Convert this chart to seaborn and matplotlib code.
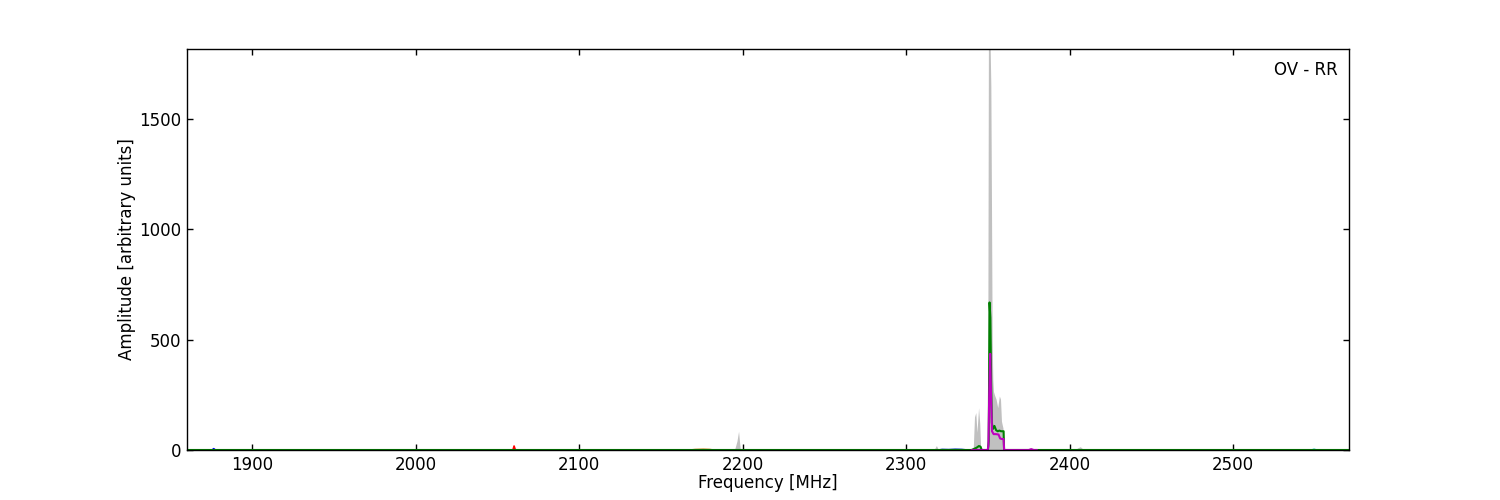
import matplotlib
matplotlib.use("Agg")
import matplotlib.pyplot as plt
import seaborn as sns

# total (grey) spectrum
gray_freq = [1860, 2195, 2196.5, 2197.5, 2198.5, 2200, 2317, 2318.5, 2319.5, 2321,
             2341, 2341.8, 2342.6, 2343.3, 2344.3, 2345.0, 2345.6, 2349.6,
             2349.9, 2350.3, 2350.7, 2351.4, 2351.8, 2352.2, 2352.6, 2353.0, 2353.4,
             2354, 2355, 2356, 2357, 2357.7, 2358.3, 2359.2, 2359.9, 2360.5,
             2403, 2405, 2406.5, 2408, 2410, 2571]
gray_amp = [0, 0, 40, 85, 5, 0, 0, 20, 5, 0,
            0, 150, 170, 80, 192, 120, 0, 0,
            300, 1818, 1818, 1818, 1650, 1100, 500, 320, 265,
            250, 230, 192, 245, 230, 130, 100, 0, 0,
            0, 10, 15, 5, 0, 0]

# green component
green_freq = [1860, 2340, 2343, 2344.5, 2345.5, 2346.2, 2350.0, 2350.5, 2351.0, 2351.5,
              2352.0, 2352.4, 2353.0, 2354.0, 2355.0, 2356.0, 2357.0, 2358.0, 2359.6, 2359.9,
              2362, 2571]
green_amp = [0, 0, 10, 18, 15, 0, 0, 40, 669, 600,
             300, 124, 95, 109, 90, 85, 88, 85, 85, 0,
             0, 0]

# magenta component
magenta_freq = [2340, 2349.9, 2350.3, 2350.8, 2351.4, 2351.9, 2352.5, 2353.5, 2355,
                2356.5, 2357.5, 2358.5, 2359.6, 2359.9, 2375, 2376.5, 2378, 2380]
magenta_amp = [0, 0, 20, 250, 436, 250, 85, 72, 72,
               70, 52, 50, 50, 0, 0, 4, 0, 0]

# small features near the baseline
blue_freq = [1870, 1875.5, 1876.5, 1877.5, 1885]
blue_amp = [0, 0, 6, 0, 0]
red_freq = [2055, 2059.5, 2060.2, 2061, 2065]
red_amp = [0, 0, 18, 0, 0]
orange_freq = [2168, 2171, 2176, 2180, 2182]
orange_amp = [0, 2, 3, 2, 0]
blue2_freq = [2320, 2322, 2326, 2330, 2334, 2337]
blue2_amp = [0, 3, 2, 4, 3, 0]
cyan_freq = [2545, 2548, 2549.5, 2551, 2554]
cyan_amp = [0, 0, 3, 0, 0]

xticks = [1900, 2000, 2100, 2200, 2300, 2400, 2500]
yticks = [0, 500, 1000, 1500]

sns.set_style("white")
plt.rcParams["font.family"] = ["DejaVu Sans"]
plt.rcParams["font.size"] = 12
plt.rcParams["text.color"] = "black"
plt.rcParams["axes.labelcolor"] = "black"

fig, ax = plt.subplots(figsize=(15, 5), dpi=100)
fig.subplots_adjust(left=0.1245, right=0.8995, bottom=0.1, top=0.902)

ax.fill_between(gray_freq, 0, gray_amp, color="#c0c0c0", linewidth=0)
sns.lineplot(x=blue_freq, y=blue_amp, color="blue", linewidth=1.2, ax=ax)
sns.lineplot(x=red_freq, y=red_amp, color="red", linewidth=1.2, ax=ax)
sns.lineplot(x=orange_freq, y=orange_amp, color="#c87800", linewidth=1.2, ax=ax)
sns.lineplot(x=blue2_freq, y=blue2_amp, color="#4060d0", linewidth=1.2, ax=ax)
sns.lineplot(x=cyan_freq, y=cyan_amp, color="c", linewidth=1.2, ax=ax)
sns.lineplot(x=green_freq, y=green_amp, color="g", linewidth=1.5, ax=ax)
sns.lineplot(x=magenta_freq, y=magenta_amp, color="m", linewidth=1.5, ax=ax)

ax.set_xlim(1860, 2571)
ax.set_ylim(0, 1818)
ax.set_xticks(xticks)
ax.set_yticks(yticks)
ax.tick_params(direction="in", length=4, width=1, top=True, right=True,
               bottom=True, left=True, labelsize=12, pad=4, colors="black")
for sp in ax.spines.values():
    sp.set_color("black")
    sp.set_linewidth(1)

ax.set_xlabel("Frequency [MHz]", fontsize=12, labelpad=0)
ax.set_ylabel("Amplitude [arbitrary units]", fontsize=12, labelpad=2)
ax.text(0.99, 0.97, "OV - RR", transform=ax.transAxes, ha="right", va="top", fontsize=12)

fig.savefig("out.png", dpi=100, facecolor="white")
